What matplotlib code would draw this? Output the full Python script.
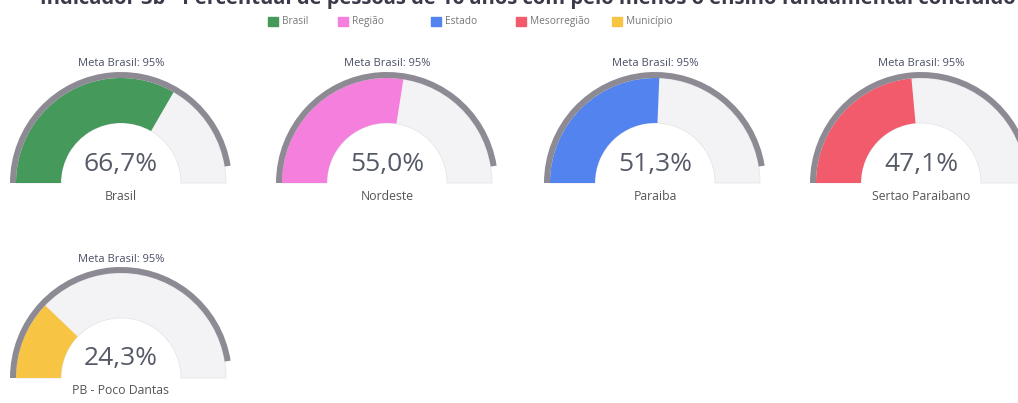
import matplotlib
matplotlib.use("Agg")
import matplotlib.pyplot as plt
from matplotlib.patches import Wedge, Rectangle

plt.rcParams['font.family'] = ['Open Sans', 'DejaVu Sans']

# dados
nomes = ["Brasil", "Nordeste", "Paraiba", "Sertao Paraibano", "PB - Poco Dantas"]
valores = [66.7, 55.0, 51.3, 47.1, 24.3]
meta = 95
legenda = ["Brasil", "Região", "Estado", "Mesorregião", "Município"]
cores = ["#45995a", "#f47fdc", "#5283ee", "#f25b6b", "#f7c443"]
titulo = "Indicador 3b - Percentual de pessoas de 16 anos com pelo menos o ensino fundamental concluído"

W, H = 1018, 403
fig = plt.figure(figsize=(W / 100, H / 100), dpi=100)
ax = fig.add_axes([0, 0, 1, 1])
ax.set_xlim(0, W)
ax.set_ylim(0, H)
ax.set_aspect('equal')
ax.axis('off')

# titulo cortado no topo
ax.text(40, H + 1, titulo, fontsize=14.5, fontweight='bold', color='#3a3a4a',
        ha='left', va='center')

# legenda
leg_x = [268, 338, 431, 516, 612]
for x, nome, cor in zip(leg_x, legenda, cores):
    ax.add_patch(Rectangle((x, H - 26), 10, 9, color=cor))
    ax.text(x + 14, H - 21.5, nome, fontsize=7.3, color='#777777', va='center', ha='left')

# posicoes dos gauges
centros = [(121, H - 183), (387, H - 183), (655, H - 183), (921, H - 183), (121, H - 378)]
r_out, r_in, r_meta = 105, 60, 111

for (cx, cy), nome, v, cor in zip(centros, nomes, valores, cores):
    ang = 180 - v / 100 * 180
    ax.add_patch(Wedge((cx, cy), r_out, 0, 180, width=r_out - r_in,
                       facecolor='#f3f3f5', edgecolor='#e6e6ea', lw=0.6))
    ax.add_patch(Wedge((cx, cy), r_out, ang, 180, width=r_out - r_in,
                       facecolor=cor, edgecolor='none'))
    ax.add_patch(Wedge((cx, cy), r_meta, 180 - meta / 100 * 180, 180,
                       width=r_meta - r_out, facecolor='#8d8a94', edgecolor='none'))
    ax.text(cx, cy + r_meta + 8, f"Meta Brasil: {meta}%", fontsize=8,
            color='#4a4f66', ha='center', va='center')
    ax.text(cx, cy + 19, f"{v:.1f}%".replace('.', ','), fontsize=19,
            color='#555a66', ha='center', va='center')
    ax.text(cx, cy - 13, nome, fontsize=8.8, color='#555555', ha='center', va='center')

fig.savefig("out.png", dpi=100, facecolor='white')
